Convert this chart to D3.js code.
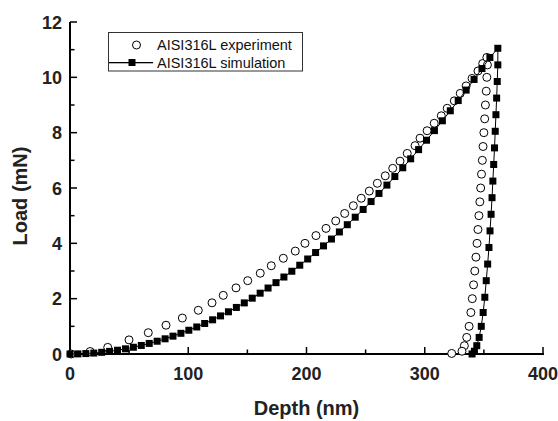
<!DOCTYPE html>
<html>
<head>
<meta charset="utf-8">
<script src="https://cdn.jsdelivr.net/npm/d3@7"></script>
<style>
  body { margin: 0; background: #fff; }
  svg { display: block; }
</style>
</head>
<body>
<svg width="558" height="421"></svg>
<script>
// experiment: open circles, [depth nm, load mN]
const expLoading = [
  [1, 0.0], [17, 0.09], [31.9, 0.24], [49.9, 0.51], [66.2, 0.77], [81.2, 1.04], [95.0, 1.30],
  [108.5, 1.58], [120.1, 1.85], [129.6, 2.12], [140.4, 2.39], [150.3, 2.65], [160.9, 2.92],
  [170.2, 3.19], [180.4, 3.46], [190.5, 3.72], [198.7, 4.00], [208.0, 4.28], [216.5, 4.54],
  [224.7, 4.81], [232.3, 5.08], [239.6, 5.36], [246.3, 5.63], [253.1, 5.89], [259.9, 6.17],
  [266.6, 6.44], [272.9, 6.71], [279.1, 6.97], [285.2, 7.25], [291.8, 7.53], [296.0, 7.80],
  [302, 8.07], [308, 8.34], [314, 8.61], [319, 8.88], [325, 9.15], [330, 9.42], [335, 9.69],
  [340, 9.96], [345, 10.23], [349, 10.5], [352.5, 10.72]
];
const expUnloading = [
  [353, 10.45], [352.5, 10.0], [352, 9.5], [351.3, 9.0], [350.7, 8.5], [350, 8.0], [349.3, 7.5],
  [348.7, 7.0], [348, 6.5], [347.3, 6.0], [346.6, 5.5], [345.8, 5.0], [345, 4.5], [344.2, 4.0],
  [343.3, 3.5], [342.3, 3.0], [341.3, 2.5], [340.2, 2.0], [339, 1.5], [337.5, 1.0], [335.5, 0.6],
  [333.5, 0.3], [331.5, 0.1], [322.8, 0.02]
];

// simulation: line + filled squares
const simLoading = [
  [0, 0], [6.7, 0.004], [13.4, 0.015], [20.1, 0.034], [26.8, 0.061], [33.5, 0.095], [40.2, 0.137],
  [46.9, 0.187], [53.6, 0.244], [60.3, 0.309], [67, 0.382], [73.7, 0.462], [80.4, 0.549],
  [87.1, 0.645], [93.8, 0.748], [100.5, 0.859], [107.2, 0.977], [113.9, 1.103], [120.6, 1.236],
  [127.3, 1.377], [134, 1.526], [140.7, 1.683], [147.4, 1.847], [154.1, 2.018], [160.8, 2.198],
  [167.5, 2.385], [174.2, 2.579], [180.9, 2.782], [187.6, 2.991], [194.3, 3.209], [201, 3.434],
  [207.7, 3.667], [214.4, 3.907], [221.1, 4.155], [227.8, 4.411], [234.5, 4.674], [241.2, 4.945],
  [247.9, 5.224], [254.6, 5.510], [261.3, 5.804], [268, 6.105], [274.7, 6.414], [281.4, 6.731],
  [288.1, 7.055], [294.8, 7.387], [301.5, 7.727], [308.2, 8.074], [314.9, 8.429], [321.6, 8.791],
  [328.3, 9.161], [335, 9.539], [341.7, 9.924], [348.4, 10.318], [355.1, 10.718], [361.8, 11.05]
];
const simUnloading = [
  [361.8, 10.45], [361.3, 9.85], [360.8, 9.25], [360.2, 8.65], [359.6, 8.05], [359, 7.45],
  [358.3, 6.85], [357.6, 6.25], [356.9, 5.65], [356.1, 5.05], [355.2, 4.45], [354.3, 3.85],
  [353.2, 3.25], [352, 2.65], [350.8, 2.05], [349.4, 1.5], [347.8, 1.0], [346, 0.6],
  [344, 0.3], [342, 0.1], [340, 0.0]
];

const xTicks = [0, 100, 200, 300, 400];
const xMinor = [50, 150, 250, 350];
const yTicks = [0, 2, 4, 6, 8, 10, 12];
const yMinor = [1, 3, 5, 7, 9, 11];
const legendLabels = ["AISI316L experiment", "AISI316L simulation"];

const svg = d3.select("svg");
const W = 558, H = 421;
const fontFamily = "Liberation Sans";
const markSize = 7;
const axisColor = "#000";

const x = d3.scaleLinear().domain([0, 400]).range([70, 543]);
const y = d3.scaleLinear().domain([0, 12]).range([354, 22]);

svg.append("rect").attr("width", W).attr("height", H).attr("fill", "#fff");

// axes as filled bars, ticks point inward
svg.append("rect")
  .attr("x", x(0) - 1).attr("y", y(0) - 1)
  .attr("width", x(400) - x(0) + 2).attr("height", 2)
  .attr("fill", axisColor);
svg.append("rect")
  .attr("x", x(0) - 1).attr("y", y(12))
  .attr("width", 2).attr("height", y(0) - y(12) + 1)
  .attr("fill", axisColor);

svg.append("g").selectAll("rect")
  .data(xTicks.map(v => [v, 7]).concat(xMinor.map(v => [v, 4.5])))
  .join("rect")
  .attr("x", d => x(d[0]) - 0.75)
  .attr("y", d => y(0) - d[1])
  .attr("width", 1.5)
  .attr("height", d => d[1])
  .attr("fill", axisColor);

svg.append("g").selectAll("rect")
  .data(yTicks.map(v => [v, 7]).concat(yMinor.map(v => [v, 4.5])))
  .join("rect")
  .attr("x", x(0))
  .attr("y", d => y(d[0]) - 0.75)
  .attr("width", d => d[1])
  .attr("height", 1.5)
  .attr("fill", axisColor);

// experiment circles
svg.append("g").selectAll("circle")
  .data(expLoading.concat(expUnloading))
  .join("circle")
  .attr("cx", d => x(d[0]))
  .attr("cy", d => y(d[1]))
  .attr("r", 4)
  .attr("fill", "#fff")
  .attr("stroke", "#000")
  .attr("stroke-width", 1);

// simulation line + squares
const simAll = simLoading.concat(simUnloading);
const simLine = d3.line().x(d => x(d[0])).y(d => y(d[1]));
svg.append("path")
  .datum(simAll)
  .attr("d", simLine)
  .attr("fill", "none")
  .attr("stroke", "#000")
  .attr("stroke-width", 1);

svg.append("g").selectAll("rect")
  .data(simAll)
  .join("rect")
  .attr("x", d => x(d[0]) - markSize / 2)
  .attr("y", d => y(d[1]) - markSize / 2)
  .attr("width", markSize)
  .attr("height", markSize)
  .attr("fill", "#000");

// tick labels
svg.append("g").selectAll("text")
  .data(xTicks)
  .join("text")
  .attr("x", d => x(d))
  .attr("y", y(0) + 26)
  .attr("text-anchor", "middle")
  .attr("font-family", fontFamily)
  .attr("font-weight", "bold")
  .attr("font-size", "18px")
  .attr("fill", "#222")
  .text(d => d);

svg.append("g").selectAll("text")
  .data(yTicks)
  .join("text")
  .attr("x", x(0) - 8)
  .attr("y", d => y(d) + 6.5)
  .attr("text-anchor", "end")
  .attr("font-family", fontFamily)
  .attr("font-weight", "bold")
  .attr("font-size", "18px")
  .attr("fill", "#222")
  .text(d => d);

// axis titles
svg.append("text")
  .attr("x", (x(0) + x(400)) / 2)
  .attr("y", 415)
  .attr("text-anchor", "middle")
  .attr("font-family", fontFamily)
  .attr("font-weight", "bold")
  .attr("font-size", "20px")
  .attr("fill", "#222")
  .text("Depth (nm)");

svg.append("text")
  .attr("transform", "translate(27,196) rotate(-90)")
  .attr("text-anchor", "middle")
  .attr("font-family", fontFamily)
  .attr("font-weight", "bold")
  .attr("font-size", "20px")
  .attr("fill", "#222")
  .text("Load (mN)");

// legend
const lg = svg.append("g");
lg.append("rect")
  .attr("x", 108.5).attr("y", 32.5)
  .attr("width", 194).attr("height", 38.5)
  .attr("fill", "#fff")
  .attr("stroke", "#333")
  .attr("stroke-width", 1);

lg.append("circle")
  .attr("cx", 136.5).attr("cy", 45)
  .attr("r", 4)
  .attr("fill", "#fff").attr("stroke", "#000");

lg.append("rect")
  .attr("x", 109).attr("y", 62)
  .attr("width", 44).attr("height", 1.3)
  .attr("fill", "#000");
lg.append("rect")
  .attr("x", 132 - markSize / 2).attr("y", 62.5 - markSize / 2)
  .attr("width", markSize).attr("height", markSize)
  .attr("fill", "#000");

lg.selectAll("text")
  .data(legendLabels)
  .join("text")
  .attr("x", 157)
  .attr("y", (d, i) => 50 + i * 17.5)
  .attr("font-family", fontFamily)
  .attr("font-size", "14.5px")
  .attr("fill", "#111")
  .text(d => d);
</script>
</body>
</html>
